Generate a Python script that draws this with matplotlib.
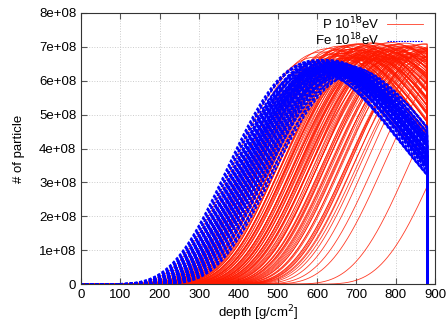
import numpy as np
import matplotlib
matplotlib.use("Agg")
import matplotlib.pyplot as plt
from matplotlib.ticker import FuncFormatter

plt.rcParams['font.family'] = ['Liberation Sans', 'DejaVu Sans']

# shower parameters: depth of maximum [g/cm2], size at maximum [x1e8]
fe_xmax = [584, 587, 590, 593, 596, 598, 601, 604, 606, 608,
           610, 612, 614, 616, 618, 620, 621, 623, 625, 626,
           628, 629, 631, 632, 634, 635, 637, 638, 640, 641,
           643, 644, 646, 647, 649, 650, 652, 653, 655, 657,
           659, 661, 663, 665, 667, 669, 671, 673, 676, 679,
           682, 685, 688, 692, 696, 700, 600, 611, 619, 627,
           633, 642, 651, 658, 666, 675, 605, 622, 639, 662]
fe_nmax = [6.55, 6.52, 6.38, 6.60, 6.30, 6.48, 6.55, 6.22, 6.41, 6.58,
           6.35, 6.50, 6.27, 6.44, 6.62, 6.18, 6.39, 6.53, 6.31, 6.47,
           6.57, 6.24, 6.42, 6.36, 6.51, 6.29, 6.46, 6.60, 6.20, 6.40,
           6.33, 6.55, 6.26, 6.48, 6.38, 6.15, 6.44, 6.52, 6.30, 6.41,
           6.22, 6.49, 6.35, 6.12, 6.43, 6.28, 6.37, 6.20, 6.45, 6.10,
           6.32, 6.25, 6.38, 6.15, 6.28, 6.20, 6.50, 6.56, 6.34, 6.47,
           6.59, 6.23, 6.39, 6.31, 6.18, 6.27, 6.61, 6.43, 6.36, 6.25]

p_xmax = [598, 612, 621, 630, 637, 643, 648, 653, 657, 661,
          665, 669, 672, 676, 679, 682, 685, 688, 691, 694,
          697, 700, 703, 706, 709, 712, 715, 718, 721, 724,
          727, 730, 733, 736, 739, 742, 745, 748, 751, 754,
          757, 760, 763, 766, 769, 772, 775, 778, 781, 784,
          787, 790, 793, 796, 799, 802, 806, 810, 814, 818,
          822, 826, 830, 834, 838, 842, 847, 852, 857, 862,
          868, 874, 880, 887, 894, 900, 905, 910, 915, 925,
          940, 960, 1050, 1120, 668, 674, 686, 693, 699, 705,
          711, 717, 723, 729, 735, 741, 747, 753, 759, 765,
          771, 777, 783, 789, 795, 804, 812, 820, 828, 836,
          845, 855, 866, 878, 890, 898, 985, 640, 655, 663]
p_nmax = [6.70, 6.85, 6.62, 6.95, 6.78, 6.58, 6.90, 6.73, 7.02, 6.66,
          6.88, 6.75, 6.98, 6.60, 6.83, 7.05, 6.70, 6.93, 6.64, 6.86,
          7.08, 6.72, 6.96, 6.68, 6.89, 7.10, 6.76, 6.99, 6.63, 6.84,
          7.04, 6.71, 6.92, 6.67, 6.87, 7.12, 6.74, 6.97, 6.61, 6.82,
          7.06, 6.77, 6.94, 6.65, 6.88, 7.09, 6.73, 7.00, 6.69, 6.85,
          7.13, 6.79, 6.95, 6.66, 6.90, 7.07, 6.74, 7.01, 6.70, 6.86,
          7.11, 6.78, 6.97, 6.68, 6.91, 7.05, 6.75, 6.99, 6.72, 6.88,
          7.08, 6.80, 6.96, 6.71, 6.93, 7.03, 6.77, 6.98, 6.74, 6.90,
          7.00, 6.85, 6.95, 6.90, 6.81, 7.03, 6.67, 6.94, 6.76, 7.07,
          6.69, 6.91, 6.80, 7.02, 6.64, 6.87, 7.10, 6.73, 6.96, 6.70,
          6.89, 7.04, 6.75, 6.92, 6.66, 7.06, 6.83, 6.98, 6.72, 7.01,
          6.79, 6.94, 6.85, 7.09, 6.88, 6.97, 6.90, 6.62, 6.81, 6.93]

ground = 880      # observation level, profiles end here
width = 580       # Xmax - X0 of the Gaisser-Hillas profile
lam = 80          # interaction length


def profile(xmax, nmax):
    x = np.arange(0, ground + 1, 2.0)
    x0 = xmax - width
    t = np.clip((x - x0) / width, 1e-9, None)
    n = nmax * 1e8 * np.exp(width / lam * (np.log(t) + 1 - t))
    n[x <= x0] = 0
    return np.append(x, ground), np.append(n, 0)


fig = plt.figure(figsize=(4.48, 3.24), dpi=100)
ax = fig.add_axes([0.181, 0.123, 0.79, 0.837])

for i, (xm, nm) in enumerate(zip(p_xmax, p_nmax)):
    x, n = profile(xm, nm)
    ax.plot(x, n, color='#ff1a00', lw=0.6, alpha=0.85,
            label='P 10$^{18}$eV' if i == 0 else None)
for i, (xm, nm) in enumerate(zip(fe_xmax, fe_nmax)):
    x, n = profile(xm, nm)
    ax.plot(x, n, color='#0000ff', lw=1.4, ls=(0, (1.5, 1)),
            label='Fe 10$^{18}$eV' if i == 0 else None)

ax.set_xlim(0, 900)
ax.set_ylim(0, 8e8)
ax.set_xticks(range(0, 901, 100))
ax.set_yticks(np.arange(0, 8.01e8, 1e8))
ax.yaxis.set_major_formatter(FuncFormatter(lambda v, p: '0' if v == 0 else f'{v:.0e}'))
ax.tick_params(direction='in', top=True, right=True, labelsize=9.5, length=4,
               color='#555555')
ax.grid(True, color='#cccccc', ls=':', lw=0.7)
for s in ax.spines.values():
    s.set_color('#333333')
ax.set_xlabel('depth [g/cm$^2$]', fontsize=9.5, labelpad=2)
ax.set_ylabel('# of particle', fontsize=9.5, labelpad=10)

leg = ax.legend(loc='upper right', frameon=False, markerfirst=False, fontsize=9.5,
                handlelength=2.7, handletextpad=0.6, borderaxespad=0.1,
                labelspacing=0.0, bbox_to_anchor=(0.985, 1.015))
leg.get_lines()[1].set_linewidth(0.8)
for t in leg.get_texts():
    t.set_ha('right')

fig.savefig('out.png', dpi=100)
